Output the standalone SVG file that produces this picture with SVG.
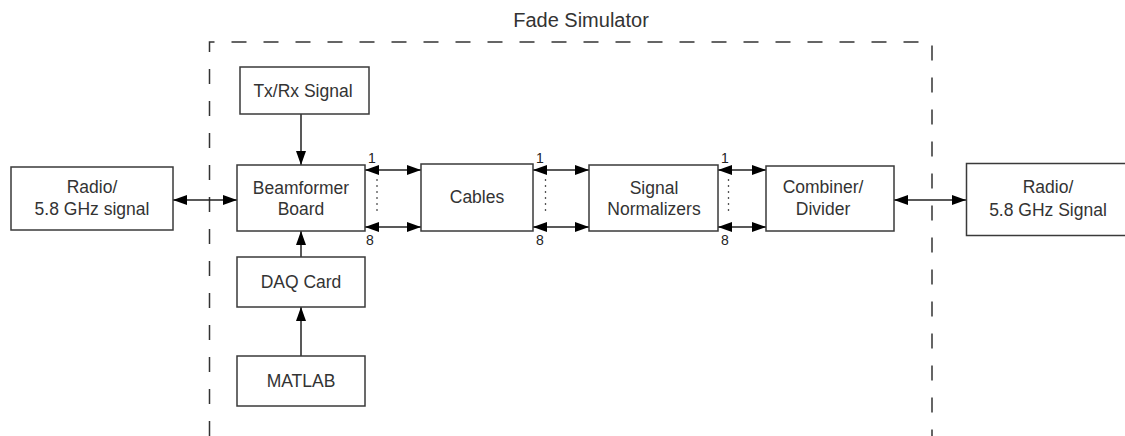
<svg xmlns="http://www.w3.org/2000/svg" width="1125" height="436" viewBox="0 0 1125 436">
<defs>
<marker id="ah" viewBox="0 0 14 10" refX="14" refY="5" markerWidth="14" markerHeight="10" markerUnits="userSpaceOnUse" orient="auto-start-reverse">
<path d="M0,0 L14,5 L0,10 z" fill="#000"/>
</marker>
</defs>
<style>
.box{fill:#fff;stroke:#3a3a3a;stroke-width:1.5}
.t{font-family:"Liberation Sans",Arial,sans-serif;font-size:17.5px;fill:#333;text-anchor:middle}
.n{font-family:"Liberation Sans",Arial,sans-serif;font-size:14px;fill:#222;text-anchor:middle}
.c{stroke:#222;stroke-width:1.5;fill:none}
.dot{stroke:#555;stroke-width:1.3;stroke-dasharray:2 4;fill:none}
.dash{stroke:#333;stroke-width:1.5;stroke-dasharray:15 17;fill:none}
</style>
<rect width="1125" height="436" fill="#fff"/>
<g id="fade-simulator">
<path class="dash" d="M209.5,436 V42 H932 V436"/>
<text x="581" y="27" class="t" style="font-size:20px">Fade Simulator</text>
</g>
<g id="connectors">
<line class="c" x1="173" y1="200" x2="237" y2="200" marker-start="url(#ah)" marker-end="url(#ah)"/>
<line class="c" x1="301" y1="114" x2="301" y2="165" marker-end="url(#ah)"/>
<line class="c" x1="301" y1="257" x2="301" y2="231" marker-end="url(#ah)"/>
<line class="c" x1="301" y1="356" x2="301" y2="307" marker-end="url(#ah)"/>
<line class="c" x1="365" y1="170" x2="421" y2="170" marker-start="url(#ah)" marker-end="url(#ah)"/>
<line class="c" x1="365" y1="227" x2="421" y2="227" marker-start="url(#ah)" marker-end="url(#ah)"/>
<line class="c" x1="533" y1="170" x2="589" y2="170" marker-start="url(#ah)" marker-end="url(#ah)"/>
<line class="c" x1="533" y1="227" x2="589" y2="227" marker-start="url(#ah)" marker-end="url(#ah)"/>
<line class="c" x1="718" y1="170" x2="766" y2="170" marker-start="url(#ah)" marker-end="url(#ah)"/>
<line class="c" x1="718" y1="227" x2="766" y2="227" marker-start="url(#ah)" marker-end="url(#ah)"/>
<line class="c" x1="894" y1="200" x2="966" y2="200" marker-start="url(#ah)" marker-end="url(#ah)"/>
<line class="dot" x1="377" y1="179" x2="377" y2="214"/>
<line class="dot" x1="545.5" y1="179" x2="545.5" y2="214"/>
<line class="dot" x1="728.5" y1="179" x2="728.5" y2="214"/>
<text class="n" x="372" y="163">1</text>
<text class="n" x="370" y="245">8</text>
<text class="n" x="540" y="163">1</text>
<text class="n" x="540" y="245">8</text>
<text class="n" x="725" y="163">1</text>
<text class="n" x="725" y="245">8</text>
</g>
<g id="radio-left">
<rect class="box" x="11" y="167" width="162" height="63"/>
<text class="t" x="92" y="193">Radio/</text>
<text class="t" x="92" y="215">5.8 GHz signal</text>
</g>
<g id="txrx">
<rect class="box" x="240" y="67" width="129" height="47"/>
<text class="t" x="303" y="96.5">Tx/Rx Signal</text>
</g>
<g id="beamformer">
<rect class="box" x="237" y="165" width="128" height="66"/>
<text class="t" x="301" y="194">Beamformer</text>
<text class="t" x="301" y="215">Board</text>
</g>
<g id="daq">
<rect class="box" x="237" y="257" width="128" height="50"/>
<text class="t" x="301" y="288">DAQ Card</text>
</g>
<g id="matlab">
<rect class="box" x="237" y="356" width="128" height="50"/>
<text class="t" x="301" y="386.5">MATLAB</text>
</g>
<g id="cables">
<rect class="box" x="421" y="164" width="112" height="67"/>
<text class="t" x="477" y="203">Cables</text>
</g>
<g id="normalizers">
<rect class="box" x="589" y="165" width="129" height="66"/>
<text class="t" x="654" y="193.5">Signal</text>
<text class="t" x="654" y="215">Normalizers</text>
</g>
<g id="combiner">
<rect class="box" x="766" y="166" width="128" height="65"/>
<text class="t" x="823" y="192.5">Combiner/</text>
<text class="t" x="823" y="214.5">Divider</text>
</g>
<g id="radio-right">
<rect class="box" x="966.5" y="163.5" width="170" height="72"/>
<text class="t" x="1048" y="193">Radio/</text>
<text class="t" x="1048" y="215.5">5.8 GHz Signal</text>
</g>
</svg>
